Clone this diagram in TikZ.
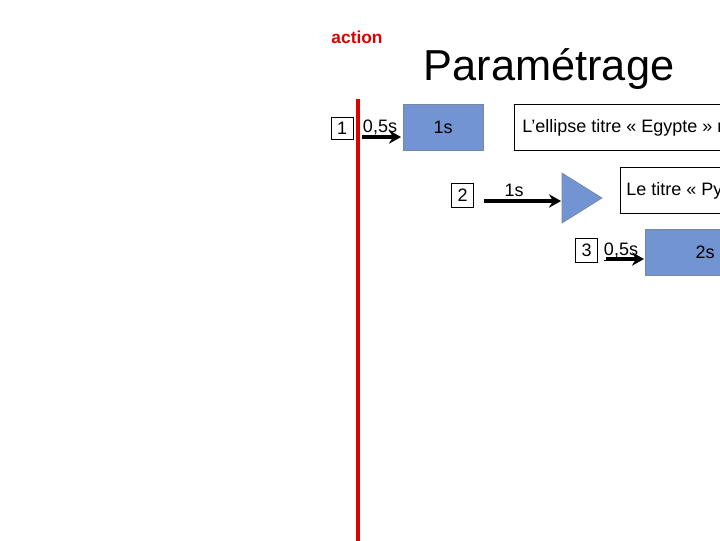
\documentclass[tikz,border=0pt]{standalone}
\usepackage{fontspec}
\setmainfont{Liberation Sans}
\usetikzlibrary{arrows.meta}
\definecolor{boxblue}{RGB}{114,148,210}
\definecolor{boxedge}{RGB}{120,135,160}
\definecolor{actred}{RGB}{220,0,0}
\begin{document}
\begin{tikzpicture}[x=0.75pt,y=-0.75pt,
  numbox/.style={draw=black, line width=0.75pt, minimum width=16pt, minimum height=17pt, inner sep=0pt, font=\fontsize{13.5}{15}\selectfont},
  bluebox/.style={fill=boxblue, draw=boxedge, line width=0.75pt, inner sep=0pt, font=\fontsize{13.5}{15}\selectfont},
  txtbox/.style={draw=black, line width=0.75pt, inner sep=0pt},
  lab/.style={font=\fontsize{13.5}{15}\selectfont, inner sep=0pt},
  arr/.style={-{Stealth[length=9pt,width=10pt]}, line width=2.6pt}]
\useasboundingbox (0,0) rectangle (720,540);
\clip (0,0) rectangle (720,540);
% titles
\node[text=actred, font=\bfseries\fontsize{13}{15}\selectfont, inner sep=0pt] (action) at (357,37) {action};
\node[font=\fontsize{32.5}{36}\selectfont, inner sep=0pt] (title) at (549,69) {Paramétrage};
% red timeline
\coordinate (redtop) at (358,99);
\coordinate (redbot) at (358,545);
\draw[actred, line width=3.4pt] (redtop) -- (redbot);
% step 1
\node[numbox, minimum width=16.5pt, minimum height=16.5pt] (n1) at (342,128) {1};
\node[lab] (d1) at (380,129) {\underline{0,5s}};
\node[bluebox, minimum width=60pt, minimum height=34pt] (b1) at (443,127.5) {1s};
\coordinate (a1s) at (362,137);
\coordinate (a1e) at (401,137);
\draw[arr] (a1s) -- (a1e);
\node[txtbox, minimum width=200pt, minimum height=34pt] (t1) at (648,127.5) {};
\node[lab, anchor=west] (t1txt) at (522,128) {L’ellipse titre « Egypte » r};
% step 2
\node[numbox, minimum width=16pt, minimum height=18pt] (n2) at (462.5,195) {2};
\node[lab] (d2) at (514,190) {1s};
\coordinate (a2s) at (484,201);
\coordinate (a2e) at (561,201);
\draw[arr] (a2s) -- (a2e);
\coordinate (tri1) at (562,173);
\coordinate (tri2) at (602,198);
\coordinate (tri3) at (562,223);
\draw[fill=boxblue, draw=boxedge, line width=0.5pt] (tri1) -- (tri2) -- (tri3) -- cycle;
\node[txtbox, minimum width=150pt, minimum height=34pt] (t2) at (720,190.5) {};
\node[lab, anchor=west] (t2txt) at (626,191) {Le titre « Py};
% step 3
\node[numbox, minimum width=16pt, minimum height=18pt] (n3) at (586.5,250) {3};
\node[lab] (d3) at (621,252) {\underline{0,5s}};
\coordinate (a3s) at (606,259);
\coordinate (a3e) at (644,259);
\draw[arr] (a3s) -- (a3e);
\node[bluebox, minimum width=89pt, minimum height=34pt] (b3) at (705,252.5) {2s};
\end{tikzpicture}
\end{document}
